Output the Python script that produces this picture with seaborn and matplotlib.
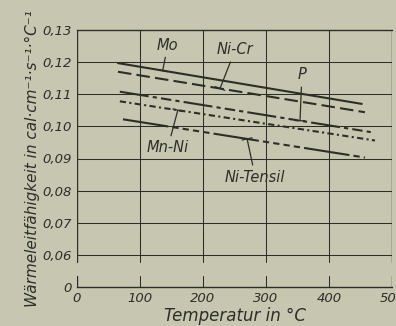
import numpy as np
import pandas as pd
import matplotlib
matplotlib.use("Agg")
import matplotlib.pyplot as plt
import seaborn as sns

# ---- data ----
series = ["Mo", "Ni-Cr", "P", "Mn-Ni", "Ni-Tensil"]
temp_start = [65, 65, 68, 68, 73]
temp_end = [452, 457, 470, 473, 457]
k_start = [0.1197, 0.1170, 0.1108, 0.1078, 0.1022]
k_end = [0.1070, 0.1044, 0.0981, 0.0956, 0.0903]

x_ticks = [0, 100, 200, 300, 400, 500]
x_tick_labels = ["0", "100", "200", "300", "400", "500"]
y_tick_values = [0, 0.06, 0.07, 0.08, 0.09, 0.10, 0.11, 0.12, 0.13]
y_tick_labels = ["0", "0,06", "0,07", "0,08", "0,09", "0,10", "0,11", "0,12", "0,13"]

# where each label's leader touches its line (temperature)
leader_temp = [136, 227, 354, 160, 270]

BG = "#c6c6b1"
INK = "#2e2e29"

sns.set_style("white")
plt.rcParams["font.family"] = ["DejaVu Sans"]
plt.rcParams["font.style"] = "italic"

# broken axis: value 0 is drawn one grid step below 0.06
BREAK = 0.05
def ypos(v):
    return v if v >= 0.06 else BREAK

rows = []
for s, t0, t1, k0, k1 in zip(series, temp_start, temp_end, k_start, k_end):
    rows.append({"series": s, "T": t0, "k": k0})
    rows.append({"series": s, "T": t1, "k": k1})
df = pd.DataFrame(rows)

fig = plt.figure(figsize=(3.96, 3.26), dpi=100, facecolor=BG)
ax = fig.add_axes([77 / 396, 1 - 287 / 326, (392 - 77) / 396, (287 - 30) / 326])
ax.set_facecolor(BG)

dash_map = {
    "Mo": "",
    "Ni-Cr": (6.5, 2.5),
    "P": (14, 2, 2, 2, 5, 2, 2, 2),
    "Mn-Ni": (3, 1.6, 1, 1.6),
    "Ni-Tensil": (22, 2, 3, 2, 3, 2, 3, 2, 3, 2),
}
palette = {s: INK for s in series}
sns.lineplot(data=df, x="T", y="k", hue="series", style="series",
             dashes=dash_map, palette=palette, linewidth=1.5,
             legend=False, ax=ax, zorder=3)

ax.set_xlim(0, 500)
ax.set_ylim(BREAK, 0.13)

# grid (with break at bottom)
for v in y_tick_values:
    if v >= 0.06 and v < 0.13:
        ax.axhline(v, color=INK, lw=0.75, zorder=1)
for x in x_ticks:
    w = 0.75 if 0 < x < 500 else 1.0
    ax.plot([x, x], [0.0578, 0.13], color=INK, lw=w, zorder=1)
    ax.plot([x, x], [BREAK, 0.0535], color=INK, lw=w, zorder=1)

for side in ["left", "right"]:
    ax.spines[side].set_visible(False)
for side in ["top", "bottom"]:
    ax.spines[side].set_color(INK)
    ax.spines[side].set_linewidth(1.0)

ax.set_xticks(x_ticks)
ax.set_xticklabels(x_tick_labels, fontsize=9.5, color=INK)
ax.set_yticks([ypos(v) for v in y_tick_values])
ax.set_yticklabels(y_tick_labels, fontsize=9.5, color=INK)
ax.tick_params(axis="both", length=0, pad=3.5)

ax.set_xlabel("Temperatur in °C", fontsize=12, color=INK, labelpad=1.5)
ax.set_ylabel("Wärmeleitfähigkeit in cal·cm⁻¹·s⁻¹·°C⁻¹", fontsize=11,
              color=INK, labelpad=2)

# labels with leader lines
label_pos = {
    "Mo": (144, 0.1253),
    "Ni-Cr": (251, 0.1238),
    "P": (357, 0.1160),
    "Mn-Ni": (144, 0.0933),
    "Ni-Tensil": (283, 0.0842),
}
for s, t0, t1, k0, k1, lt in zip(series, temp_start, temp_end, k_start, k_end, leader_temp):
    ky = np.interp(lt, [t0, t1], [k0, k1])
    ax.annotate(s, xy=(lt, ky), xytext=label_pos[s], ha="center", va="center",
                fontsize=10.5, color=INK, zorder=4,
                arrowprops=dict(arrowstyle="-[, widthB=0.35, lengthB=0",
                                color=INK, lw=0.9, shrinkA=1, shrinkB=0))

fig.savefig("out.png", dpi=100, facecolor=BG)
